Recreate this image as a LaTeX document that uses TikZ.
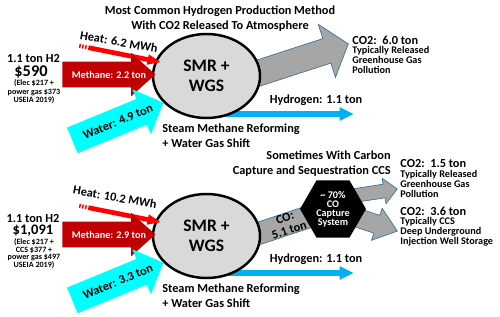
\documentclass[tikz,border=0pt]{standalone}
\usepackage{fontspec}
\setmainfont{Carlito}
\usepackage{xcolor}
\definecolor{smrred}{RGB}{192,0,0}
\definecolor{smrheat}{RGB}{255,0,0}
\definecolor{smrcyan}{RGB}{0,255,255}
\definecolor{smrblue}{RGB}{0,176,240}
\definecolor{smrgray}{RGB}{166,166,166}
\definecolor{smredge}{RGB}{65,113,156}
\definecolor{smrfill}{RGB}{217,217,217}
\usepackage{tikz}
\usetikzlibrary{arrows.meta, positioning, shapes.geometric, shapes.arrows, calc}

\begin{document}
\begin{tikzpicture}[
    lbl/.style={font=\bfseries\fontsize{7}{8.5}\selectfont, inner sep=0pt, align=center},
    note/.style={font=\bfseries\fontsize{5.8}{5.7}\selectfont, inner sep=0pt, align=left},
    tiny/.style={font=\bfseries\fontsize{4.6}{4.8}\selectfont, inner sep=0pt, align=center},
    price/.style={font=\bfseries\fontsize{9.3}{9.3}\selectfont, inner sep=0pt},
    blockarrow/.style={single arrow, inner sep=0pt, anchor=tail},
    grayarrow/.style={blockarrow, fill=smrgray, draw=smredge, line width=0.4pt},
    hub/.style={ellipse, draw=black, line width=1.4pt, fill=smrfill, minimum width=2.14cm,
      minimum height=1.68cm, inner sep=0pt, align=center, font=\bfseries\fontsize{10}{11.5}\selectfont},
    stripes/.style={smrheat, line width=0.08cm, dash pattern=on 0.03cm off 0.03cm}
  ]
  \useasboundingbox (0,0) rectangle (10,6.32);

  % ---- Top: no capture ----
  \node[lbl] (titleA) at (4.40,5.95) {Most Common Hydrogen Production Method\\With CO2 Released To Atmosphere};

  % Cost
  \node[lbl] (costA) at (0.67,5.15) {1.1 ton H2};
  \node[price] (priceA) at (0.62,4.87) {\$590};
  \node[tiny] (srcA) at (0.68,4.48) {(Elec \$217 +\\power gas \$373\\USEIA 2019)};

  % Outputs (behind the hub)
  \node[grayarrow, minimum height=2.46cm, inner ysep=0.25cm, single arrow head extend=0.3cm,
    single arrow tip angle=102, rotate=18] (co2A) at (4.62,4.68) {};
  \node[blockarrow, fill=smrblue, minimum height=2.92cm, inner ysep=0.05cm,
    single arrow head extend=0.08cm, single arrow tip angle=53] (h2A) at (4.14,4.04) {};

  % Hub
  \node[hub] (smrA) at (4.13,4.80) {SMR +\\WGS};

  % Inputs
  \node[blockarrow, fill=smrheat, minimum height=1.47cm, inner ysep=0.04cm,
    single arrow head extend=0.06cm, single arrow tip angle=45, rotate=-11.3] (heatA) at (1.76,5.368) {};
  \draw[stripes] ($(heatA.tail)!-0.12!(heatA.tip)$) -- (heatA.tail);
  \node[blockarrow, fill=smrred, minimum height=1.86cm, inner ysep=0.25cm,
    single arrow head extend=0.18cm, single arrow tip angle=84] (methA) at (1.24,4.83) {};
  \node[blockarrow, fill=smrcyan, minimum height=1.97cm, inner ysep=0.27cm,
    single arrow head extend=0.21cm, single arrow tip angle=92, rotate=22.4] (waterA) at (1.44,3.51) {};

  % Labels
  \node[lbl, rotate=-10] (heatAlbl) at (2.38,5.48) {Heat: 6.2 MWh};
  \node[lbl, text=white, font=\bfseries\fontsize{5.8}{7}\selectfont] (methAlbl)
    at ($(methA.tail)!0.5!(methA.tip)$) {Methane: 2.2 ton};
  \node[lbl, rotate=22.4] (waterAlbl) at ($(waterA.tail)!0.5!(waterA.tip)$) {Water: 4.9 ton};
  \node[lbl] (h2Albl) at (6.32,4.32) {Hydrogen: 1.1 ton};
  \node[lbl, anchor=west, align=left] (steamA) at (3.24,3.61) {Steam Methane Reforming\\+ Water Gas Shift};
  \node[lbl, anchor=west] (co2Ahead) at (7.04,5.52) {CO2:\ \ 6.0 ton};
  \node[note, anchor=west] (co2Anote) at (7.04,5.12) {Typically Released\\Greenhouse Gas\\Pollution};

  % ---- Bottom: with CCS ----
  \node[lbl, align=right, anchor=east] (titleB) at (7.82,3.04) {Sometimes With Carbon\\Capture and Sequestration CCS};

  % Cost
  \node[lbl] (costB) at (0.66,1.95) {1.1 ton H2};
  \node[price, font=\bfseries\fontsize{8.3}{8.3}\selectfont] (priceB) at (0.66,1.71) {\$1,091};
  \node[tiny, font=\bfseries\fontsize{4.6}{4.4}\selectfont] (srcB) at (0.68,1.25) {(Elec \$217 +\\CCS \$377 +\\power gas \$497\\USEIA 2019)};

  % Outputs (behind hub and capture unit)
  \node[fill=smrgray, draw=smredge, line width=0.4pt, rotate=18.4, minimum width=1.98cm,
    minimum height=0.44cm, lbl, font=\bfseries\fontsize{7}{7.6}\selectfont] (coB) at (5.74,1.84) {CO:\\5.1 ton};
  \node[grayarrow, minimum height=1.05cm, inner ysep=0.13cm, single arrow head extend=0.12cm,
    single arrow tip angle=88, rotate=8.7] (co2Bair) at (6.90,2.38) {};
  \node[grayarrow, minimum height=1.2cm, inner ysep=0.18cm, single arrow head extend=0.15cm,
    single arrow tip angle=76, rotate=-18.4] (co2Bccs) at (6.80,2.08) {};
  \node[blockarrow, fill=smrblue, minimum height=2.92cm, inner ysep=0.05cm,
    single arrow head extend=0.08cm, single arrow tip angle=53] (h2B) at (4.14,0.86) {};

  % Hub and capture unit
  \node[hub] (smrB) at (4.13,1.60) {SMR +\\WGS};
  \node[regular polygon, regular polygon sides=6, fill=black, minimum size=1.32cm, inner sep=0pt,
    text=white, align=center, font=\bfseries\fontsize{5.8}{5.2}\selectfont] (ccsB) at (6.66,2.14)
    {\textasciitilde{} 70\%\\CO\\Capture\\System};

  % Inputs
  \node[blockarrow, fill=smrheat, minimum height=1.47cm, inner ysep=0.04cm,
    single arrow head extend=0.06cm, single arrow tip angle=45, rotate=-11.3] (heatB) at (1.76,2.168) {};
  \draw[stripes] ($(heatB.tail)!-0.12!(heatB.tip)$) -- (heatB.tail);
  \node[blockarrow, fill=smrred, minimum height=1.86cm, inner ysep=0.25cm,
    single arrow head extend=0.18cm, single arrow tip angle=84] (methB) at (1.24,1.63) {};
  \node[blockarrow, fill=smrcyan, minimum height=1.97cm, inner ysep=0.27cm,
    single arrow head extend=0.21cm, single arrow tip angle=92, rotate=22.4] (waterB) at (1.44,0.31) {};

  % Labels
  \node[lbl, rotate=-10] (heatBlbl) at (2.30,2.38) {Heat: 10.2 MWh};
  \node[lbl, text=white, font=\bfseries\fontsize{5.8}{7}\selectfont] (methBlbl)
    at ($(methB.tail)!0.5!(methB.tip)$) {Methane: 2.9 ton};
  \node[lbl, rotate=22.4] (waterBlbl) at ($(waterB.tail)!0.5!(waterB.tip)$) {Water: 3.3 ton};
  \node[lbl] (h2Blbl) at (6.32,1.14) {Hydrogen: 1.1 ton};
  \node[lbl, anchor=west, align=left] (steamB) at (3.24,0.41) {Steam Methane Reforming\\+ Water Gas Shift};
  \node[lbl, anchor=west] (co2Bhead) at (8.00,3.04) {CO2:\ \ 1.5 ton};
  \node[note, anchor=west] (co2Bnote) at (8.00,2.65) {Typically Released\\Greenhouse Gas\\Pollution};
  \node[lbl, anchor=west] (ccsBhead) at (8.00,2.10) {CO2:\ \ 3.6 ton};
  \node[note, anchor=west] (ccsBnote) at (8.00,1.69) {Typically CCS\\Deep Underground\\Injection Well Storage};
\end{tikzpicture}
\end{document}
